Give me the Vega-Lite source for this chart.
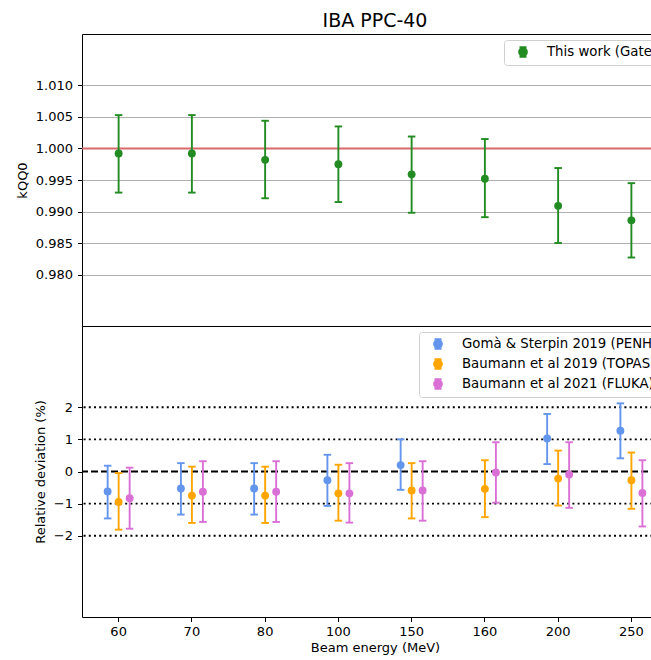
{
  "$schema": "https://vega.github.io/schema/vega-lite/v6.json",
  "padding": {"left": 15, "top": 11, "right": -17, "bottom": 0},
  "spacing": 0,
  "bounds": "flush",
  "resolve": {"scale": {"color": "independent"}, "legend": {"color": "independent"}},
  "config": {
    "font": "DejaVu Sans",
    "view": {"stroke": "#000", "strokeWidth": 1},
    "axis": {"domain": false, "tickColor": "#000", "tickSize": 4.5, "tickWidth": 1, "labelFont": "DejaVu Sans", "labelFontSize": 13, "labelColor": "#000", "titleFont": "DejaVu Sans", "titleFontSize": 13, "titleFontWeight": "normal", "titleColor": "#000", "labelPadding": 5, "grid": false},
    "axisY": {"titlePadding": 6},
    "axisX": {"labelPadding": 4, "titlePadding": 3, "labelAngle": 0},
    "legend": {"orient": "top-right", "offset": 6, "title": null, "labelFont": "DejaVu Sans", "labelFontSize": 13.3, "labelColor": "#000", "labelLimit": 400, "padding": 4, "rowPadding": 2, "symbolOffset": 7, "labelOffset": 16, "fillColor": "rgba(255,255,255,0.8)", "strokeColor": "#d0d0d0", "cornerRadius": 3, "symbolSize": 196, "symbolStrokeWidth": 1.9, "symbolType": "M-0.5,-0.68H0.5M0,-0.68V0.68M-0.5,0.68H0.5M0.56,0A0.56,0.56,0,1,1,-0.56,0A0.56,0.56,0,1,1,0.56,0Z"}
  },
  "datasets": {
    "gate": [
      {"energy": 60, "series": "This work (Gate)", "k": 0.9992, "lo": 0.9930, "hi": 1.0053},
      {"energy": 70, "series": "This work (Gate)", "k": 0.9992, "lo": 0.9930, "hi": 1.0053},
      {"energy": 80, "series": "This work (Gate)", "k": 0.9982, "lo": 0.9921, "hi": 1.0044},
      {"energy": 100, "series": "This work (Gate)", "k": 0.9975, "lo": 0.9915, "hi": 1.0035},
      {"energy": 150, "series": "This work (Gate)", "k": 0.9959, "lo": 0.9898, "hi": 1.0019},
      {"energy": 160, "series": "This work (Gate)", "k": 0.9952, "lo": 0.9891, "hi": 1.0015},
      {"energy": 200, "series": "This work (Gate)", "k": 0.9909, "lo": 0.9850, "hi": 0.9969},
      {"energy": 250, "series": "This work (Gate)", "k": 0.9886, "lo": 0.9827, "hi": 0.9945}
    ],
    "dev": [
      {"energy": 60, "series": "Gomà & Sterpin 2019 (PENH)", "d": -0.62, "lo": -1.46, "hi": 0.18},
      {"energy": 60, "series": "Baumann et al 2019 (TOPAS)", "d": -0.95, "lo": -1.81, "hi": -0.05},
      {"energy": 60, "series": "Baumann et al 2021 (FLUKA)", "d": -0.83, "lo": -1.78, "hi": 0.12},
      {"energy": 70, "series": "Gomà & Sterpin 2019 (PENH)", "d": -0.53, "lo": -1.34, "hi": 0.26},
      {"energy": 70, "series": "Baumann et al 2019 (TOPAS)", "d": -0.75, "lo": -1.60, "hi": 0.15},
      {"energy": 70, "series": "Baumann et al 2021 (FLUKA)", "d": -0.63, "lo": -1.57, "hi": 0.32},
      {"energy": 80, "series": "Gomà & Sterpin 2019 (PENH)", "d": -0.53, "lo": -1.34, "hi": 0.26},
      {"energy": 80, "series": "Baumann et al 2019 (TOPAS)", "d": -0.75, "lo": -1.60, "hi": 0.15},
      {"energy": 80, "series": "Baumann et al 2021 (FLUKA)", "d": -0.63, "lo": -1.57, "hi": 0.32},
      {"energy": 100, "series": "Gomà & Sterpin 2019 (PENH)", "d": -0.27, "lo": -1.07, "hi": 0.52},
      {"energy": 100, "series": "Baumann et al 2019 (TOPAS)", "d": -0.68, "lo": -1.53, "hi": 0.21},
      {"energy": 100, "series": "Baumann et al 2021 (FLUKA)", "d": -0.68, "lo": -1.59, "hi": 0.26},
      {"energy": 150, "series": "Gomà & Sterpin 2019 (PENH)", "d": 0.20, "lo": -0.57, "hi": 1.00},
      {"energy": 150, "series": "Baumann et al 2019 (TOPAS)", "d": -0.59, "lo": -1.46, "hi": 0.26},
      {"energy": 150, "series": "Baumann et al 2021 (FLUKA)", "d": -0.59, "lo": -1.53, "hi": 0.32},
      {"energy": 160, "series": "Baumann et al 2019 (TOPAS)", "d": -0.54, "lo": -1.42, "hi": 0.35},
      {"energy": 160, "series": "Baumann et al 2021 (FLUKA)", "d": -0.03, "lo": -0.97, "hi": 0.91},
      {"energy": 200, "series": "Gomà & Sterpin 2019 (PENH)", "d": 1.03, "lo": 0.23, "hi": 1.79},
      {"energy": 200, "series": "Baumann et al 2019 (TOPAS)", "d": -0.22, "lo": -1.06, "hi": 0.65},
      {"energy": 200, "series": "Baumann et al 2021 (FLUKA)", "d": -0.09, "lo": -1.13, "hi": 0.91},
      {"energy": 250, "series": "Gomà & Sterpin 2019 (PENH)", "d": 1.27, "lo": 0.41, "hi": 2.12},
      {"energy": 250, "series": "Baumann et al 2019 (TOPAS)", "d": -0.27, "lo": -1.16, "hi": 0.59},
      {"energy": 250, "series": "Baumann et al 2021 (FLUKA)", "d": -0.67, "lo": -1.71, "hi": 0.35}
    ]
  },
  "vconcat": [
    {
      "width": 586,
      "height": 292,
      "title": {"text": "IBA PPC-40", "frame": "group", "anchor": "middle", "fontSize": 19, "font": "DejaVu Sans", "fontWeight": "normal", "color": "#000", "baseline": "alphabetic", "offset": -11.9},
      "data": {"name": "gate"},
      "layer": [
        {
          "data": {"values": [{"ref": 1.0}]},
          "mark": {"type": "rule", "color": "#d9696b", "strokeWidth": 1.9},
          "encoding": {
            "y": {"field": "ref", "type": "quantitative", "title": "kQQ0",
                  "scale": {"domain": [0.97183, 1.01817], "nice": false, "zero": false},
                  "axis": {"values": [0.98, 0.985, 0.99, 0.995, 1.0, 1.005, 1.01], "format": ".3f", "grid": true, "gridColor": "#b0b0b0", "gridWidth": 1}}
          }
        },
        {
          "mark": {"type": "rule", "strokeWidth": 1.9},
          "encoding": {
            "x": {"field": "energy", "type": "ordinal", "scale": {"type": "band", "domain": [60, 70, 80, 100, 150, 160, 200, 250], "paddingInner": 0, "paddingOuter": 0}, "axis": null},
            "y": {"field": "lo", "type": "quantitative", "title": "kQQ0"},
            "y2": {"field": "hi"},
            "color": {"field": "series", "type": "nominal", "scale": {"domain": ["This work (Gate)"], "range": ["#228B22"]}}
          }
        },
        {
          "mark": {"type": "tick", "size": 7.5, "thickness": 1.9, "opacity": 1},
          "encoding": {
            "x": {"field": "energy", "type": "ordinal", "scale": {"type": "band"}, "axis": null},
            "y": {"field": "lo", "type": "quantitative", "title": "kQQ0"},
            "color": {"field": "series", "type": "nominal"}
          }
        },
        {
          "mark": {"type": "tick", "size": 7.5, "thickness": 1.9, "opacity": 1},
          "encoding": {
            "x": {"field": "energy", "type": "ordinal", "scale": {"type": "band"}, "axis": null},
            "y": {"field": "hi", "type": "quantitative", "title": "kQQ0"},
            "color": {"field": "series", "type": "nominal"}
          }
        },
        {
          "mark": {"type": "point", "filled": true, "size": 62, "opacity": 1},
          "encoding": {
            "x": {"field": "energy", "type": "ordinal", "scale": {"type": "band"}, "axis": null},
            "y": {"field": "k", "type": "quantitative", "title": "kQQ0"},
            "color": {"field": "series", "type": "nominal",
                      "legend": {"encode": {"symbols": {"update": {"fill": {"value": "#228B22"}, "stroke": {"value": "#228B22"}, "strokeWidth": {"value": 1.9}, "opacity": {"value": 1}}}}}}
          }
        }
      ]
    },
    {
      "width": 586,
      "height": 291,
      "data": {"name": "dev"},
      "layer": [
        {
          "data": {"values": [{"ref": 2}, {"ref": 1}, {"ref": -1}, {"ref": -2}]},
          "mark": {"type": "rule", "color": "#000", "strokeWidth": 1.9, "strokeDash": [2, 3.2]},
          "encoding": {
            "y": {"field": "ref", "type": "quantitative", "title": "Relative deviation (%)",
                  "scale": {"domain": [-4.526, 4.526], "nice": false, "zero": false},
                  "axis": {"values": [-2, -1, 0, 1, 2], "format": "d", "grid": false}}
          }
        },
        {
          "data": {"values": [{"ref": 0}]},
          "mark": {"type": "rule", "color": "#000", "strokeWidth": 1.9, "strokeDash": [7, 3]},
          "encoding": {
            "y": {"field": "ref", "type": "quantitative", "title": "Relative deviation (%)"}
          }
        },
        {
          "mark": {"type": "rule", "strokeWidth": 1.9},
          "encoding": {
            "x": {"field": "energy", "type": "ordinal", "title": "Beam energy (MeV)", "scale": {"type": "band", "domain": [60, 70, 80, 100, 150, 160, 200, 250], "paddingInner": 0, "paddingOuter": 0}, "axis": {"bandPosition": 0.5}},
            "xOffset": {"field": "series", "type": "nominal", "scale": {"type": "point", "padding": 0, "range": [25.65, 47.65], "domain": ["Gomà & Sterpin 2019 (PENH)", "Baumann et al 2019 (TOPAS)", "Baumann et al 2021 (FLUKA)"]}},
            "y": {"field": "lo", "type": "quantitative", "title": "Relative deviation (%)"},
            "y2": {"field": "hi"},
            "color": {"field": "series", "type": "nominal", "scale": {"domain": ["Gomà & Sterpin 2019 (PENH)", "Baumann et al 2019 (TOPAS)", "Baumann et al 2021 (FLUKA)"], "range": ["#6495ED", "#FFA500", "#DA70D6"]}}
          }
        },
        {
          "mark": {"type": "tick", "size": 7.5, "thickness": 1.9, "opacity": 1},
          "encoding": {
            "x": {"field": "energy", "type": "ordinal", "title": "Beam energy (MeV)", "scale": {"type": "band"}},
            "xOffset": {"field": "series", "type": "nominal"},
            "y": {"field": "lo", "type": "quantitative", "title": "Relative deviation (%)"},
            "color": {"field": "series", "type": "nominal"}
          }
        },
        {
          "mark": {"type": "tick", "size": 7.5, "thickness": 1.9, "opacity": 1},
          "encoding": {
            "x": {"field": "energy", "type": "ordinal", "title": "Beam energy (MeV)", "scale": {"type": "band"}},
            "xOffset": {"field": "series", "type": "nominal"},
            "y": {"field": "hi", "type": "quantitative", "title": "Relative deviation (%)"},
            "color": {"field": "series", "type": "nominal"}
          }
        },
        {
          "mark": {"type": "point", "filled": true, "size": 62, "opacity": 1},
          "encoding": {
            "x": {"field": "energy", "type": "ordinal", "title": "Beam energy (MeV)", "scale": {"type": "band"}},
            "xOffset": {"field": "series", "type": "nominal"},
            "y": {"field": "d", "type": "quantitative", "title": "Relative deviation (%)"},
            "color": {"field": "series", "type": "nominal",
                      "legend": {"encode": {"symbols": {"update": {
                        "fill": {"signal": "datum.value === 'Gomà & Sterpin 2019 (PENH)' ? '#6495ED' : datum.value === 'Baumann et al 2019 (TOPAS)' ? '#FFA500' : '#DA70D6'"},
                        "stroke": {"signal": "datum.value === 'Gomà & Sterpin 2019 (PENH)' ? '#6495ED' : datum.value === 'Baumann et al 2019 (TOPAS)' ? '#FFA500' : '#DA70D6'"},
                        "strokeWidth": {"value": 1.9}, "opacity": {"value": 1}}}}}}
          }
        }
      ]
    }
  ]
}
